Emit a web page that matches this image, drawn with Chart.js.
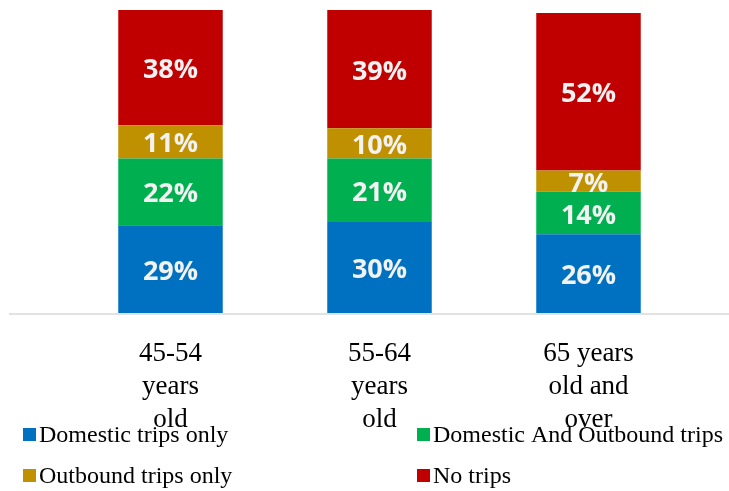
<!DOCTYPE html>
<html>
<head>
<meta charset="utf-8">
<script src="https://cdn.jsdelivr.net/npm/chart.js@4.4.1/dist/chart.umd.min.js"></script>
<style>
  html, body { margin: 0; padding: 0; background: #ffffff; }
  #wrap { width: 729px; height: 491px; position: relative; }
</style>
</head>
<body>
<div id="wrap"><canvas id="c" width="729" height="491"></canvas></div>
<script>
const categories = [["45-54", "years", "old"], ["55-64", "years", "old"], ["65 years", "old and", "over"]];
const seriesNames = ["Domestic trips only", "Domestic And Outbound trips", "Outbound trips only", "No trips"];
const domesticOnly = [29, 30, 26];
const domesticAndOutbound = [22, 21, 14];
const outboundOnly = [11, 10, 7];
const noTrips = [38, 39, 52];
const seriesColors = ["#0070C0", "#00B050", "#BF9000", "#C00000"];

const seriesValues = [domesticOnly, domesticAndOutbound, outboundOnly, noTrips];

const labelPlugin = {
  id: 'segLabels',
  afterDatasetsDraw(chart) {
    const ctx = chart.ctx;
    ctx.save();
    ctx.font = 'bold 27px "Open Sans", sans-serif';
    ctx.fillStyle = '#f2f2f2';
    ctx.textAlign = 'center';
    ctx.textBaseline = 'middle';
    chart.data.datasets.forEach((ds, i) => {
      const meta = chart.getDatasetMeta(i);
      meta.data.forEach((el, j) => {
        const v = ds.data[j];
        const cy = (el.y + el.base) / 2;
        ctx.fillText(v + '%', el.x, cy + 3);
      });
    });
    ctx.restore();
  },
  afterDraw(chart) {
    const ctx = chart.ctx;
    const yb = chart.scales.y.getPixelForValue(0);
    ctx.save();
    ctx.strokeStyle = '#d9d9d9';
    ctx.lineWidth = 1.5;
    ctx.beginPath();
    ctx.moveTo(9, yb + 1);
    ctx.lineTo(729, yb + 1);
    ctx.stroke();
    // legend
    const pos = [[23, 436], [417, 436], [23, 477], [417, 477]];
    ctx.font = '24px "Liberation Serif", serif';
    ctx.textBaseline = 'middle';
    ctx.textAlign = 'left';
    chart.data.datasets.forEach((ds, i) => {
      const [x, y] = pos[i];
      ctx.fillStyle = ds.backgroundColor;
      ctx.fillRect(x, y - 8, 13, 13);
      ctx.fillStyle = '#000000';
      ctx.fillText(ds.label, x + 16, y);
    });
    ctx.restore();
  }
};

new Chart(document.getElementById('c'), {
  type: 'bar',
  data: {
    labels: categories,
    datasets: seriesNames.map((n, i) => ({
      label: n,
      data: seriesValues[i],
      backgroundColor: seriesColors[i],
      borderWidth: 0,
      barPercentage: 0.5,
      categoryPercentage: 1.0
    }))
  },
  options: {
    responsive: false,
    animation: false,
    layout: { padding: { left: 66, right: 36, top: 10, bottom: 31 } },
    plugins: { legend: { display: false }, tooltip: { enabled: false } },
    scales: {
      x: {
        stacked: true,
        grid: { display: false, drawTicks: false },
        border: { display: false },
        ticks: {
          padding: 24,
          color: '#000000',
          font: { family: '"Liberation Serif", serif', size: 27, lineHeight: '33px' }
        }
      },
      y: {
        stacked: true,
        display: false,
        min: 0,
        max: 100
      }
    }
  },
  plugins: [labelPlugin]
});
</script>
</body>
</html>
